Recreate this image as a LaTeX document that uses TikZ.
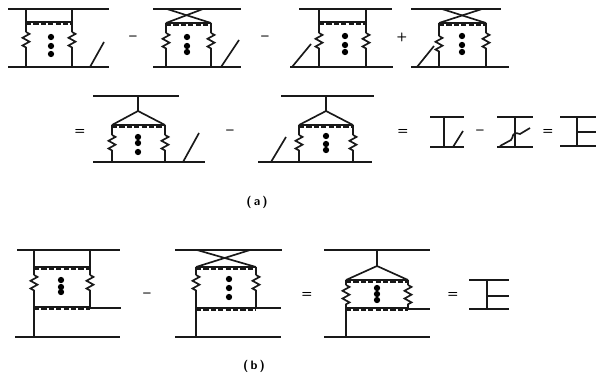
\documentclass[tikz,border=0pt]{standalone}
\usetikzlibrary{decorations.pathmorphing}

\begin{document}
\begin{tikzpicture}[
            x=0.02cm, y=-0.02cm,
            rail/.style={line width=0.95pt, black!90},
            rung/.style={line width=0.8pt, black!90},
            dash_rung/.style={line width=1.3pt, black!90, dash pattern=on 3pt off 1.2pt},
            spring/.style={line width=0.95pt, black!90, decorate, decoration={zigzag, segment length=4.4pt, amplitude=2pt}},
            blob/.style={circle, fill=black, inner sep=0pt, minimum size=3.6pt},
            sign/.style={font=\sffamily\footnotesize\bfseries, inner sep=0pt},
            plus_sign/.style={font=\sffamily\scriptsize\bfseries, inner sep=0pt},
            eq_sign/.style={font=\sffamily\scriptsize\bfseries, inner sep=0pt},
            caption_label/.style={font=\sffamily\scriptsize\bfseries, inner sep=0pt}
        ]
        \useasboundingbox (0,0) rectangle (597,375);

        % external lines
        \foreach \n/\xa/\xb/\ya in {
            a/8/109/9, b/8/109/67, c/153/241/9, d/153/241/67, e/299/392/9, f/290/393/67,
            g/411/501/9, h/411/509/67, i/93/179/96, j/93/205/162, k/281/374/96, l/258/372/162,
            m/430/464/117, n/430/464/147, o/497/533/117, p/497/533/147, q/560/596/117, r/560/596/146, s/577/596/132,
            t/17/120/250, u/90/121/308, v/15/120/337, w/175/282/250, x/256/281/308, y/175/281/337,
            z/324/430/250, aa/408/430/309, ab/324/430/337, ac/469/509/280, ad/469/509/309, ae/487/509/296} {
            \coordinate (rail\n s) at (\xa,\ya);
            \coordinate (rail\n e) at (\xb,\ya);
            \draw[rail] (rail\n s) -- (rail\n e);
        }

        % sides with a spring in the middle
        \foreach \n/\x/\ya/\sa/\sb/\yb in {
            a/26/9/32/50/67, b/72/9/32/50/67, c/166/23/33/52/67, d/211/23/33/52/67,
            e/319/9/33/52/67, f/366/9/33/52/67, g/439/23/36/54/67, h/486/23/33/52/67,
            i/112/125/135/152/162, j/165/125/135/152/162, k/299/125/135/152/162, l/353/125/135/152/162,
            m/34/250/275/293/337, n/90/250/275/293/308, o/196/267/275/293/337, p/256/267/275/293/308,
            q/346/280/285/305/337, r/408/280/285/305/309} {
            \coordinate (side\n a) at (\x,\ya);
            \coordinate (side\n b) at (\x,\sa);
            \coordinate (side\n c) at (\x,\sb);
            \coordinate (side\n d) at (\x,\yb);
            \draw[rail] (side\n a) -- (side\n b);
            \draw[spring] (side\n b) -- (side\n c);
            \draw[rail] (side\n c) -- (side\n d);
        }

        % rungs, solid with dashes under them
        \foreach \n/\xa/\xb/\ya in {
            a/26/72/22, b/166/211/23, c/319/366/22, d/439/486/23, e/112/165/125, f/299/353/125,
            g/34/90/267, h/34/90/307, i/196/256/267, j/196/256/308, k/346/408/280, l/346/408/308} {
            \coordinate (rung\n s) at (\xa,\ya);
            \coordinate (rung\n e) at (\xb,\ya);
            \draw[rung] (rung\n s) -- (rung\n e);
            \draw[dash_rung] ([yshift=-1pt]rung\n s) -- ([yshift=-1pt]rung\n e);
        }

        % crossed legs, fans, soft lines
        \foreach \n/\xa/\ya/\xb/\yb in {
            a/167/9/211/23, b/203/9/166/23, c/442/9/486/23, d/482/9/439/23,
            e/197/250/256/267, f/250/250/196/267,
            g/138/96/138/111, h/138/111/112/125, i/138/111/165/125,
            j/326/96/326/111, k/326/111/299/125, l/326/111/353/125,
            m/377/250/377/266, n/377/266/346/280, o/377/266/408/280,
            p/90/67/104/42, q/221/67/239/40, r/292/67/311/44, s/417/67/434/46,
            t/183/162/199/133, u/271/162/286/137,
            v/444/117/444/147, w/453/147/463/131, x/515/117/515/147,
            y/577/117/577/146, z/487/280/487/309} {
            \coordinate (leg\n s) at (\xa,\ya);
            \coordinate (leg\n e) at (\xb,\yb);
            \draw[rail] (leg\n s) -- (leg\n e);
        }

        % soft line crossing the quark line
        \coordinate (softa) at (500,146);
        \coordinate (softb) at (511,140);
        \coordinate (softc) at (520,134);
        \coordinate (softd) at (530,128);
        \draw[rail] (softa) -- (softb) .. controls (514,137) and (511,131) .. (softc) -- (softd);

        % blobs
        \foreach \n/\x/\ya/\yb/\yc in {
            a/51/37/46/54, b/187/37/46/52, c/345/36/45/52, d/462/36/45/52, e/138/137/143/152,
            f/326/136/144/150, g/61/280/287/292, h/229/279/288/297, i/377/288/294/300} {
            \node[blob] (blob\n a) at (\x,\ya) {};
            \node[blob] (blob\n b) at (\x,\yb) {};
            \node[blob] (blob\n c) at (\x,\yc) {};
        }

        % signs
        \foreach \n/\x/\y in {a/133/38, b/265/38, e/230/132, g/480/132, i/147/295} {
            \node[sign] (sign\n) at (\x,\y) {--};
        }
        \node[plus_sign] (signc) at (402,37) {+};
        \foreach \n/\x/\y in {d/80/132, f/403/132, h/548/132, j/307/295, k/453/295} {
            \node[eq_sign] (sign\n) at (\x,\y) {=};
        }

        \node[caption_label] (capa) at (257,202) {(\,a\,)};
        \node[caption_label] (capb) at (254,366) {(\,b\,)};

    \end{tikzpicture}
\end{document}
